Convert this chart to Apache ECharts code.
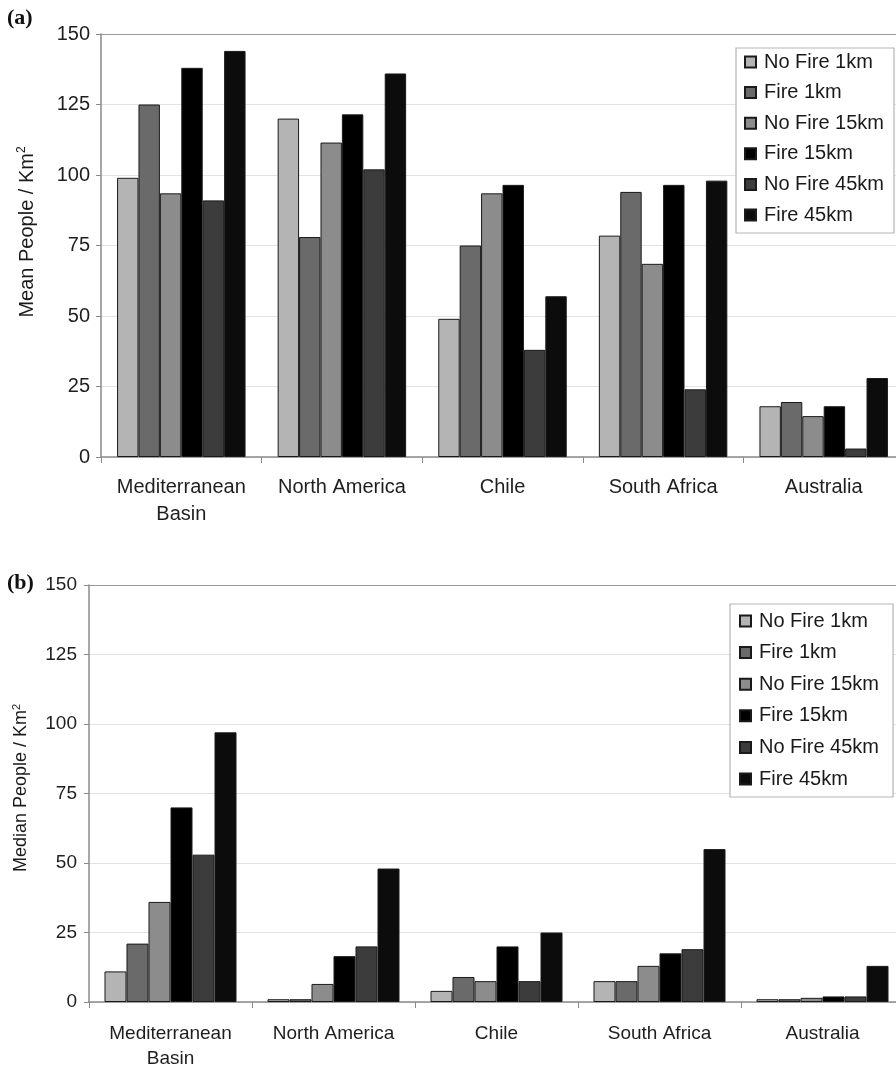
<!DOCTYPE html>
<html>
<head>
<meta charset="utf-8">
<script src="https://cdn.jsdelivr.net/npm/echarts@6/dist/echarts.min.js"></script>
<style>
html,body{margin:0;padding:0;background:#fff;}
#chart{width:896px;height:1068px;}
</style>
</head>
<body>
<div id="chart"></div>
<script>
// ---- data ----
const categories = ['Mediterranean\nBasin', 'North America', 'Chile', 'South Africa', 'Australia'];
const seriesNames = ['No Fire 1km', 'Fire 1km', 'No Fire 15km', 'Fire 15km', 'No Fire 45km', 'Fire 45km'];
const yTicks = [0, 25, 50, 75, 100, 125, 150];

// (a) mean people / km2
const meanNoFire1km  = [99, 120, 49, 78.5, 18];
const meanFire1km    = [125, 78, 75, 94, 19.5];
const meanNoFire15km = [93.5, 111.5, 93.5, 68.5, 14.5];
const meanFire15km   = [138, 121.5, 96.5, 96.5, 18];
const meanNoFire45km = [91, 102, 38, 24, 3];
const meanFire45km   = [144, 136, 57, 98, 28];

// (b) median people / km2
const medianNoFire1km  = [11, 1, 4, 7.5, 1];
const medianFire1km    = [21, 1, 9, 7.5, 1];
const medianNoFire15km = [36, 6.5, 7.5, 13, 1.5];
const medianFire15km   = [70, 16.5, 20, 17.5, 2];
const medianNoFire45km = [53, 20, 7.5, 19, 2];
const medianFire45km   = [97, 48, 25, 55, 13];

// ---- styles ----
const colors = ['#b4b4b4', '#6a6a6a', '#8c8c8c', '#000000', '#3c3c3c', '#0c0c0c'];
const FONT = '"Liberation Sans", Arial, sans-serif';
const meanData = [meanNoFire1km, meanFire1km, meanNoFire15km, meanFire15km, meanNoFire45km, meanFire45km];
const medianData = [medianNoFire1km, medianFire1km, medianNoFire15km, medianFire15km, medianNoFire45km, medianFire45km];

function makeSeries(dataArr, idx, gap) {
  return seriesNames.map((n, i) => ({
    name: n,
    type: 'bar',
    xAxisIndex: idx,
    yAxisIndex: idx,
    data: dataArr[i],
    barGap: '0%',
    barCategoryGap: gap,
    itemStyle: {color: colors[i], borderColor: '#1a1a1a', borderWidth: 1},
    emphasis: {disabled: true},
    animation: false
  }));
}

function xAxis(idx, fs, margin, lh) {
  return {
    type: 'category', gridIndex: idx, data: categories,
    axisLine: {show: true, lineStyle: {color: '#8a8a8a', width: 1.5}},
    axisTick: {show: true, alignWithLabel: false, length: 6, lineStyle: {color: '#8a8a8a'}},
    axisLabel: {interval: 0, fontFamily: FONT, fontSize: fs, color: '#1e1e1e', margin: margin, lineHeight: lh},
    splitLine: {show: false}
  };
}
function yAxis(idx, fs, margin) {
  return {
    type: 'value', gridIndex: idx, min: yTicks[0], max: yTicks[yTicks.length - 1], interval: yTicks[1] - yTicks[0],
    axisLine: {show: true, lineStyle: {color: '#8a8a8a', width: 1.5}},
    axisTick: {show: true, length: 5, lineStyle: {color: '#8a8a8a'}},
    axisLabel: {fontFamily: FONT, fontSize: fs, color: '#1e1e1e', margin: margin},
    splitLine: {show: true, lineStyle: {color: ['#e2e2e2', '#e2e2e2', '#e2e2e2', '#e2e2e2', '#e2e2e2', '#e2e2e2', '#9a9a9a'], width: 1}}
  };
}
function legend(idx, left, top, fs, gap, pad) {
  return {
    show: true, orient: 'vertical', left: left, top: top,
    data: seriesNames.map((n, i) => ({name: n})),
    icon: 'rect', itemWidth: 11, itemHeight: 11, itemGap: gap,
    padding: pad,
    backgroundColor: '#fff', borderColor: '#b5b5b5', borderWidth: 1.2,
    textStyle: {fontFamily: FONT, fontSize: fs, color: '#1a1a1a', lineHeight: 20, padding: [0, 0, 0, 3]},
    selectedMode: false
  };
}

const chart = echarts.init(document.getElementById('chart'), null, {renderer: 'canvas'});

const seriesA = makeSeries(meanData, 0, '20%');
const seriesB = makeSeries(medianData, 1, '19%');

const option = {
  backgroundColor: '#fff',
  animation: false,
  grid: [
    {left: 101, top: 34, width: 803, height: 423, containLabel: false, outerBoundsMode: 'none'},
    {left: 89, top: 585, width: 815, height: 417, containLabel: false, outerBoundsMode: 'none'}
  ],
  xAxis: [xAxis(0, 20, 17, 27), xAxis(1, 19, 19, 25)],
  yAxis: [yAxis(0, 20, 11), yAxis(1, 19, 12)],
  legend: [
    legend(0, 736, 48, 20, 10.6, [4, 10, 8, 8]),
    legend(1, 730, 604, 20, 11.6, [7, 14, 8, 9])
  ],
  series: seriesA.concat(seriesB),
  graphic: [
    {type: 'text', left: 7, top: 7, style: {text: '(a)', font: 'bold 22px "Liberation Serif", "Times New Roman", serif', fill: '#111'}},
    {type: 'text', left: 7, top: 572, style: {text: '(b)', font: 'bold 22px "Liberation Serif", "Times New Roman", serif', fill: '#111'}},
    {type: 'text', x: 27, y: 232, rotation: Math.PI / 2, style: {
      text: 'Mean People / Km{s|2}', fontFamily: FONT, fontSize: 20, fill: '#1a1a1a', align: 'center', verticalAlign: 'middle',
      rich: {s: {fontFamily: FONT, fontSize: 12, fill: '#1a1a1a', verticalAlign: 'top', padding: [0, 0, 10, 0]}}
    }},
    {type: 'text', x: 21, y: 788, rotation: Math.PI / 2, style: {
      text: 'Median People / Km{s|2}', fontFamily: FONT, fontSize: 18, fill: '#1a1a1a', align: 'center', verticalAlign: 'middle',
      rich: {s: {fontFamily: FONT, fontSize: 11, fill: '#1a1a1a', verticalAlign: 'top', padding: [0, 0, 9, 0]}}
    }}
  ]
};
chart.setOption(option);
</script>
</body>
</html>
